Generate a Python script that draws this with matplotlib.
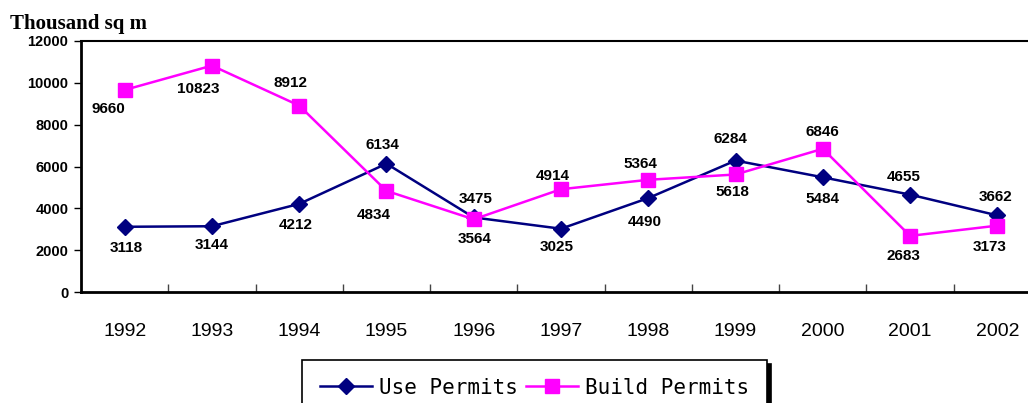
import numpy as np
import matplotlib
matplotlib.use("Agg")
import matplotlib.pyplot as plt

years = ["1992", "1993", "1994", "1995", "1996", "1997",
         "1998", "1999", "2000", "2001", "2002"]
use_permits = [3118, 3144, 4212, 6134, 3564, 3025, 4490, 6284, 5484, 4655, 3662]
build_permits = [9660, 10823, 8912, 4834, 3475, 4914, 5364, 5618, 6846, 2683, 3173]

# label offsets in pixels (dx, dy), dy positive = above
use_offsets = [(2, -21), (0, -19), (-3, -21), (-4, 19), (1, -22), (-4, -18),
               (-4, -24), (-5, 22), (0, -22), (-6, 18), (-2, 18)]
build_offsets = [(-16, -19), (-14, -23), (-9, 23), (-13, -24), (2, 20), (-8, 13),
                 (-8, 16), (-3, -18), (0, 17), (-7, -20), (-8, -21)]

W, H = 1028, 403
fig = plt.figure(figsize=(W / 100, H / 100), dpi=100)
ax = fig.add_axes([81 / W, 1 - 292 / H, 960 / W, 251 / H])

x = np.arange(len(years))
ax.plot(x, use_permits, color="#000080", lw=1.8, marker="D", ms=8,
        label="Use Permits", zorder=3)
ax.plot(x, build_permits, color="#FF00FF", lw=1.8, marker="s", ms=10,
        label="Build Permits", zorder=4)

for xi, v, (dx, dy) in zip(x, use_permits, use_offsets):
    ax.annotate(str(v), (xi, v), xytext=(dx, dy), textcoords="offset pixels",
                ha="center", va="center", fontsize=11, fontweight="bold",
                family="Liberation Sans", zorder=5)
for xi, v, (dx, dy) in zip(x, build_permits, build_offsets):
    ax.annotate(str(v), (xi, v), xytext=(dx, dy), textcoords="offset pixels",
                ha="center", va="center", fontsize=11, fontweight="bold",
                family="Liberation Sans", zorder=5)

ax.set_xlim(-0.5, len(years) - 0.5)
ax.set_ylim(0, 12000)
ax.set_yticks(np.arange(0, 12001, 2000))
ax.set_yticklabels([str(t) for t in range(0, 12001, 2000)],
                   fontsize=10.5, fontweight="bold", family="Liberation Sans")
ax.tick_params(axis="y", direction="out", length=5, width=1, pad=4)

ax.set_xticks(x)
ax.set_xticklabels(years, fontsize=14, family="Liberation Sans")
ax.tick_params(axis="x", which="major", length=0, pad=22)
ax.set_xticks(np.arange(0.5, len(years) - 0.5), minor=True)
ax.tick_params(axis="x", which="minor", direction="in", length=6, width=1,
               color="#444444")

for s in ax.spines.values():
    s.set_color("black")
    s.set_linewidth(1.5)
ax.spines["left"].set_linewidth(2)
ax.spines["bottom"].set_linewidth(2)

fig.text(10 / W, 1 - 29 / H, "Thousand sq m", fontsize=15, fontweight="bold",
         family="Liberation Serif", va="baseline", ha="left")

# legend box runs off the bottom edge like the original
leg = fig.legend(loc="upper center", bbox_to_anchor=(534.5 / W, 1 - 360 / H),
                 ncol=2, frameon=True, fancybox=False, edgecolor="black",
                 framealpha=1, borderpad=0.85, borderaxespad=0,
                 handlelength=2.5, handletextpad=0.35, columnspacing=0.35,
                 prop={"family": "DejaVu Sans Mono", "size": 15},
                 shadow={"ox": 3, "oy": -3, "color": "black", "alpha": 1})
leg.get_frame().set_linewidth(1.2)

fig.savefig("out.png", dpi=100)
